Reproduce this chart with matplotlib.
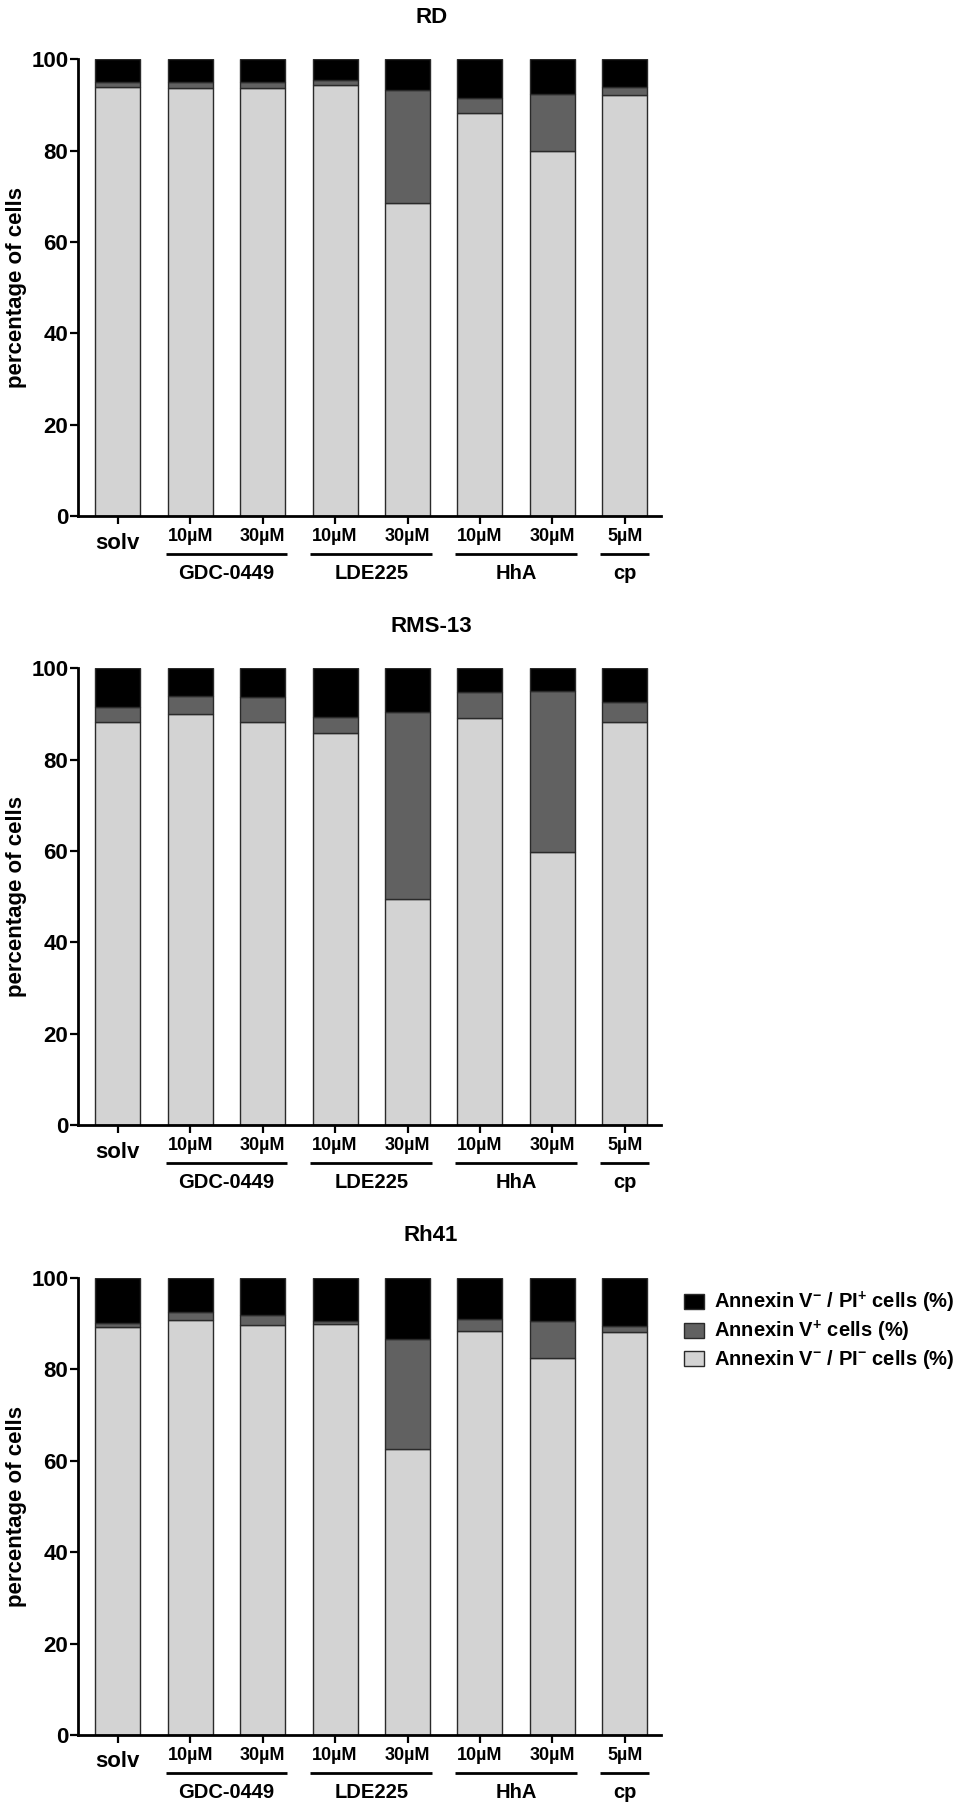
import matplotlib
matplotlib.use("Agg")
import matplotlib.pyplot as plt
from matplotlib.patches import Patch
import numpy as np

plt.rcParams["font.family"] = ["Liberation Sans", "DejaVu Sans"]
plt.rcParams["font.weight"] = "bold"
plt.rcParams["mathtext.fontset"] = "custom"
plt.rcParams["mathtext.rm"] = "Liberation Sans:bold"
plt.rcParams["mathtext.it"] = "Liberation Sans:bold"
plt.rcParams["mathtext.bf"] = "Liberation Sans:bold"

# treatments (x order)
doses = ["", "10µM", "30µM", "10µM", "30µM", "10µM", "30µM", "5µM"]
groups = ["GDC-0449", "LDE225", "HhA", "cp"]
group_spans = [(1, 2), (3, 4), (5, 6), (7, 7)]

# percentages per cell line: viable (AnnV-/PI-), apoptotic (AnnV+), necrotic (AnnV-/PI+)
rd_viable = [93.8, 93.6, 93.6, 94.3, 68.5, 88.3, 79.9, 92.2]
rd_annexin = [1.3, 1.5, 1.3, 1.2, 24.7, 3.1, 12.5, 1.6]
rd_pi = [4.9, 4.9, 5.1, 4.5, 6.8, 8.6, 7.6, 6.2]

rms_viable = [88.3, 89.9, 88.1, 85.7, 49.4, 89.1, 59.7, 88.1]
rms_annexin = [3.1, 3.9, 5.5, 3.5, 41.0, 5.7, 35.3, 4.5]
rms_pi = [8.6, 6.2, 6.4, 10.8, 9.6, 5.2, 5.0, 7.4]

rh_viable = [89.3, 90.9, 89.8, 89.9, 62.6, 88.4, 82.6, 88.2]
rh_annexin = [0.8, 1.6, 2.2, 0.8, 24.0, 2.6, 8.0, 1.2]
rh_pi = [9.9, 7.5, 8.0, 9.3, 13.4, 9.0, 9.4, 10.6]

panels = [
    ("RD", rd_viable, rd_annexin, rd_pi),
    ("RMS-13", rms_viable, rms_annexin, rms_pi),
    ("Rh41", rh_viable, rh_annexin, rh_pi),
]

c_viable = "#d3d3d3"
c_annexin = "#616161"
c_pi = "#000000"
edge = "#2a2a2a"

fig = plt.figure(figsize=(9.58, 18.19), dpi=100)

ax_left = 0.0814
ax_width = 0.690 - 0.0814
bottoms = [0.7163, 0.3815, 0.0462]
height = 0.2512
title_y = [0.9905, 0.6558, 0.3210]

x = np.arange(len(doses))
for k, (name, viable, annexin, pi) in enumerate(panels):
    ax = fig.add_axes([ax_left, bottoms[k], ax_width, height])
    viable = np.array(viable)
    annexin = np.array(annexin)
    pi = np.array(pi)
    w = 0.62
    ax.bar(x, viable, w, color=c_viable, edgecolor=edge, linewidth=1.0)
    ax.bar(x, annexin, w, bottom=viable, color=c_annexin, edgecolor=edge, linewidth=1.0)
    ax.bar(x, pi, w, bottom=viable + annexin, color=c_pi, edgecolor=edge, linewidth=1.0)

    ax.set_xlim(-0.55, 7.5)
    ax.set_ylim(0, 100)
    ax.set_yticks([0, 20, 40, 60, 80, 100])
    ax.set_xticks(x)
    ax.set_xticklabels([])
    for s in ["top", "right"]:
        ax.spines[s].set_visible(False)
    for s in ["left", "bottom"]:
        ax.spines[s].set_linewidth(2.0)
    ax.tick_params(axis="both", length=6, width=1.6, direction="out")
    ax.tick_params(axis="y", labelsize=16, pad=1)
    ax.set_ylabel("percentage of cells", fontsize=16, fontweight="bold")
    ax.yaxis.set_label_coords(-0.088, 0.5)

    tr = ax.get_xaxis_transform()
    ax.text(0, -0.059, "solv", transform=tr, ha="center", va="center",
            fontsize=16, fontweight="bold")
    for i in range(1, len(doses)):
        ax.text(i, -0.044, doses[i], transform=tr, ha="center", va="center",
                fontsize=13, fontweight="bold")
    for g, (a, b) in zip(groups, group_spans):
        ax.plot([a - 0.34, b + 0.34], [-0.083, -0.083], transform=tr,
                color="black", lw=2.0, clip_on=False, solid_capstyle="butt")
        ax.text((a + b) / 2, -0.125, g, transform=tr, ha="center", va="center",
                fontsize=14.5, fontweight="bold")

    fig.text(0.45, title_y[k], name, ha="center", va="center",
             fontsize=16, fontweight="bold")

handles = [
    Patch(facecolor=c_pi, edgecolor=edge),
    Patch(facecolor=c_annexin, edgecolor=edge),
    Patch(facecolor=c_viable, edgecolor=edge),
]
labels = [
    r"Annexin V$^{-}$ / PI$^{+}$ cells (%)",
    r"Annexin V$^{+}$ cells (%)",
    r"Annexin V$^{-}$ / PI$^{-}$ cells (%)",
]
fig.legend(handles, labels, loc="upper left", bbox_to_anchor=(0.703, 0.2965),
           frameon=False, handlelength=1.0, handleheight=0.8,
           handletextpad=0.5, labelspacing=0.2, borderpad=0,
           prop={"weight": "bold", "size": 14.5})

fig.savefig("out.png", dpi=100)
